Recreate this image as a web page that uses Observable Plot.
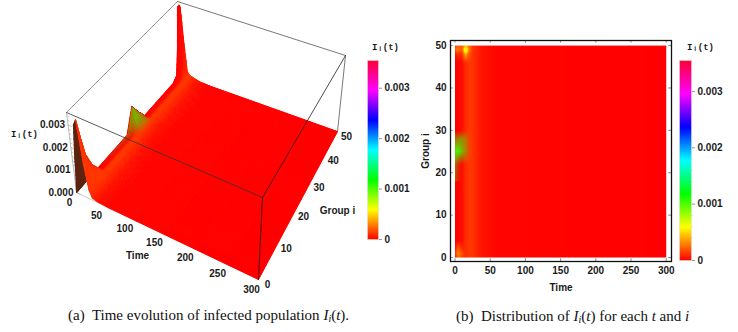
<!DOCTYPE html>
<html>
<head>
<meta charset="utf-8">
<script src="https://cdn.jsdelivr.net/npm/d3@7"></script>
<script src="https://cdn.jsdelivr.net/npm/@observablehq/plot@0.6"></script>
<style>
  html,body{margin:0;padding:0;background:#fff;}
  #stage{position:relative;width:738px;height:332px;overflow:hidden;background:#fff;}
  #stage > div.p{position:absolute;}
  .cap{position:absolute;font-family:"Liberation Serif",serif;font-size:15px;color:#111;white-space:nowrap;line-height:16px;}
  .cap sub{font-size:10px;line-height:0;vertical-align:-2px;}
</style>
</head>
<body>
<div id="stage"></div>
<script>
// ---- data ----
const times = [0, 3, 5, 10, 15, 20, 25, 30, 40, 60, 300];
const groups = [0, 1, 2, 4, 8, 22, 25, 28, 30, 46, 48, 49, 50];
const timeTicks = [0, 50, 100, 150, 200, 250, 300];
const groupTicks = [0, 10, 20, 30, 40, 50];
const heightTicks = [0, 0.001, 0.002, 0.003];
const heightMinorTicks = [0.0002, 0.0004, 0.0006, 0.0008, 0.0012, 0.0014, 0.0016, 0.0018, 0.0022, 0.0024, 0.0026, 0.0028, 0.0032, 0.0034];
const colorTicks = [0, 0.001, 0.002, 0.003];
const colorMax = 0.00355;

// The low ridge that runs along every group: its height, and the colour value painted on it
const ridge = [0, 0, 0.00001, 0.00004, 0.00012, 0.00016, 0.00013, 0.00009, 0.00003, 0, 0];
const ridgeTint = [0, 0, 0.00001, 0.00003, 0.0001, 0.00013, 0.00012, 0.00009, 0.00004, 0.00001, 0];

// Height of the 3D surface, one row per group
const surfaceHeight = [
  [0, 0.0008, 0.0016, 0.0031, 0.0034, 0.0015, 0.0004, 0.00009, 0.00003, 0, 0],
  [0, 0.0004, 0.0009, 0.0018, 0.0024, 0.0012, 0.0003, 0.00009, 0.00003, 0, 0],
  [0, 0.0002, 0.0005, 0.001, 0.0016, 0.0009, 0.00025, 0.00009, 0.00003, 0, 0],
  [0, 0.0001, 0.0002, 0.0005, 0.0009, 0.0005, 0.0002, 0.00009, 0.00003, 0, 0],
  ridge,
  ridge,
  [0.001, 0.0009, 0.0007, 0.0004, 0.0003, 0.00016, 0.00013, 0.00009, 0.00003, 0, 0],
  [0.0004, 0.0004, 0.0004, 0.0003, 0.0002, 0.00016, 0.00013, 0.00009, 0.00003, 0, 0],
  ridge,
  ridge,
  [0.0002, 0.0003, 0.0003, 0.0002, 0.00015, 0.00016, 0.00013, 0.00009, 0.00003, 0, 0],
  [0.0014, 0.0016, 0.0015, 0.0009, 0.0002, 0.00016, 0.00013, 0.00009, 0.00003, 0, 0],
  [0.0033, 0.0034, 0.0033, 0.0016, 0.0003, 0.00016, 0.00013, 0.00009, 0.00003, 0, 0]
];

// Colour value of the flat distribution, one row per group
const distribution = [
  [0.00005, 0.0002, 0.00025, 0.00014, 0.0001, 0.00013, 0.00012, 0.00009, 0.00004, 0.00001, 0],
  [0.0001, 0.00028, 0.0003, 0.00018, 0.0001, 0.00013, 0.00012, 0.00009, 0.00004, 0.00001, 0],
  [0.00003, 0.0002, 0.00022, 0.0001, 0.0001, 0.00013, 0.00012, 0.00009, 0.00004, 0.00001, 0],
  ridgeTint,
  ridgeTint,
  ridgeTint,
  ridgeTint,
  ridgeTint,
  ridgeTint,
  ridgeTint,
  [0.00005, 0.0001, 0.0001, 0.00012, 0.0004, 0.0002, 0.00012, 0.00009, 0.00004, 0.00001, 0],
  [0.0002, 0.0003, 0.00028, 0.0002, 0.0008, 0.00028, 0.00013, 0.00009, 0.00004, 0.00001, 0],
  [0.0001, 0.0002, 0.0002, 0.0002, 0.0004, 0.00025, 0.00013, 0.00009, 0.00004, 0.00001, 0]
];

// Colour value painted on the 3D surface, one row per group
const surfaceColor = groups.map(() => ridgeTint);

// Strength of the green patch around group 25, one row per group
const zeros = times.map(() => 0);
const greenPatch = [
  zeros, zeros, zeros, zeros, zeros,
  [0.45, 0.3, 0.15, 0, 0, 0, 0, 0, 0, 0, 0],
  [1, 1, 1, 0.75, 0.45, 0.12, 0, 0, 0, 0, 0],
  [0.5, 0.5, 0.55, 0.55, 0.4, 0.08, 0, 0, 0, 0, 0],
  zeros, zeros, zeros, zeros, zeros
];
const patchGreen = "#4cf000";

const hueColors = ["#ff0000", "#ffff00", "#00ff00", "#00ffff", "#0000ff", "#ff00ff", "#ff0033"];

// ---- helpers ----
const colorScale = {type: "linear", domain: hueColors.map((_, k) => k * colorMax / 6), range: hueColors};
const axisFont = {fontFamily: "'Liberation Sans',Arial,sans-serif", fontWeight: "bold", fontSize: "10px", color: "#1a1a1a", background: "transparent", overflow: "visible"};
const monoFont = {fontFamily: "'Liberation Mono',monospace", fontSize: 9, fontWeight: "bold"};

function sample(matrix, t, i) {
  const a = Math.min(d3.bisectRight(times, t) - 1, times.length - 2);
  const b = Math.min(d3.bisectRight(groups, i) - 1, groups.length - 2);
  const u = (t - times[a]) / (times[a + 1] - times[a]);
  const v = (i - groups[b]) / (groups[b + 1] - groups[b]);
  return (matrix[b][a] * (1 - u) + matrix[b][a + 1] * u) * (1 - v)
       + (matrix[b + 1][a] * (1 - u) + matrix[b + 1][a + 1] * u) * v;
}

// The 3D camera: where the corners of the box fall, as (t,i) = (0,0), (300,0), (300,50), (0,50)
const zBox = 0.00355;
const floorCorners = [[76, 192], [258, 279], [337, 131], [180, 75]];
const ceilCorners = [[66, 112], [262, 197], [345, 55], [177, 1]];
function homography([[x0, y0], [x1, y1], [x2, y2], [x3, y3]]) {
  const dx1 = x1 - x2, dx2 = x3 - x2, sx = x0 - x1 + x2 - x3;
  const dy1 = y1 - y2, dy2 = y3 - y2, sy = y0 - y1 + y2 - y3;
  const den = dx1 * dy2 - dx2 * dy1;
  const g = (sx * dy2 - dx2 * sy) / den, h = (dx1 * sy - sx * dy1) / den;
  const a = x1 - x0 + g * x1, b = x3 - x0 + h * x3, d = y1 - y0 + g * y1, e = y3 - y0 + h * y3;
  return (u, v) => {
    const w = g * u + h * v + 1;
    return [(a * u + b * v + x0) / w, (d * u + e * v + y0) / w];
  };
}
const floorMap = homography(floorCorners), ceilMap = homography(ceilCorners);
function project(t, i, z) {
  const [x0, y0] = floorMap(t / 300, i / 50), [x1, y1] = ceilMap(t / 300, i / 50);
  const k = z / zBox;
  return [x0 + (x1 - x0) * k, y0 + (y1 - y0) * k];
}
const refine = (arr, n) => arr.slice(1).flatMap((v, k) => d3.range(n).map(j => arr[k] + (v - arr[k]) * j / n)).concat(arr[arr.length - 1]);

// Surface mesh, drawn far to near
const meshT = refine(times, 5), meshI = refine(groups, 5);
const frontQuads = [], backQuads = [], patchQuads = [];
let id = 0;
for (let a = 0; a < meshT.length - 1; a++) {
  for (let b = meshI.length - 2; b >= 0; b--) {
    const corners = [[meshT[a], meshI[b]], [meshT[a + 1], meshI[b]], [meshT[a + 1], meshI[b + 1]], [meshT[a], meshI[b + 1]]];
    const pts = corners.map(([t, i]) => project(t, i, sample(surfaceHeight, t, i)));
    const value = d3.mean(corners, ([t, i]) => sample(surfaceColor, t, i));
    const alpha = d3.mean(corners, ([t, i]) => sample(greenPatch, t, i));
    const target = d3.polygonArea(pts) > 0 ? frontQuads : backQuads;
    id++;
    pts.forEach(([x, y]) => {
      target.push({x, y, id, value});
      if (alpha > 0.01) patchQuads.push({x, y, id, alpha});
    });
  }
}

const edge = (a, b) => [project(...a), project(...b)].map(([x, y]) => ({x, y}));
const behind = [
  {pts: edge([0, 0, zBox], [0, 50, zBox]), stroke: "#777"},
  {pts: edge([0, 50, zBox], [300, 50, zBox]), stroke: "#555"},
  {pts: edge([0, 0, 0], [0, 0, zBox]), stroke: "#aaa"},
  {pts: edge([300, 50, 0], [300, 50, zBox]), stroke: "#555"},
  {pts: edge([0, 0, 0], [300, 0, 0]), stroke: "#bbb"}
];
const infront = [
  {pts: edge([0, 0, zBox], [300, 0, zBox]), stroke: "#333"},
  {pts: edge([300, 0, zBox], [300, 50, zBox]), stroke: "#222"},
  {pts: edge([300, 0, zBox], [300, 0, 0]), stroke: "#111"}
];
const edgeMarks = list => list.map(e => Plot.line(e.pts, {x: "x", y: "y", stroke: e.stroke, strokeWidth: 0.8}));

const timeAt = t => project(t, 0, 0), groupAt = i => project(300, i, 0), heightAt = z => project(0, 0, z);
const fmtColor = d => d === 0 ? "0" : d.toFixed(3);

function place(node, left, top) {
  const wrap = document.createElement("div");
  wrap.className = "p";
  wrap.style.left = left + "px";
  wrap.style.top = top + "px";
  wrap.appendChild(node);
  document.getElementById("stage").appendChild(wrap);
}

// ---- (a) the 3D surface ----
place(Plot.plot({
  width: 365, height: 305, margin: 0,
  style: axisFont,
  x: {domain: [0, 365], range: [0, 365], axis: null},
  y: {domain: [0, 305], range: [0, 305], axis: null},
  color: colorScale,
  marks: [
    ...edgeMarks(behind),
    Plot.link(heightMinorTicks, {x1: d => heightAt(d)[0], y1: d => heightAt(d)[1], x2: d => heightAt(d)[0] + 2, y2: d => heightAt(d)[1] + 1, stroke: "#aaa", strokeWidth: 0.6}),
    Plot.link(heightTicks, {x1: d => heightAt(d)[0], y1: d => heightAt(d)[1], x2: d => heightAt(d)[0] + 4, y2: d => heightAt(d)[1] + 2, stroke: "#999", strokeWidth: 0.6}),
    Plot.line(backQuads, {x: "x", y: "y", z: "id", fill: "#5c2410", stroke: "#5c2410", strokeWidth: 1, curve: "linear-closed"}),
    Plot.line(frontQuads, {x: "x", y: "y", z: "id", fill: "value", stroke: "value", strokeWidth: 1, curve: "linear-closed"}),
    Plot.line(patchQuads, {x: "x", y: "y", z: "id", fill: patchGreen, fillOpacity: "alpha", stroke: "none", curve: "linear-closed"}),
    ...edgeMarks(infront),
    Plot.text(timeTicks, {x: d => timeAt(d)[0], y: d => timeAt(d)[1], text: d => String(d), dx: -7, dy: 10}),
    Plot.text(groupTicks, {x: d => groupAt(d)[0], y: d => groupAt(d)[1], text: d => String(d), dx: 9, dy: 5}),
    Plot.text(heightTicks, {x: d => heightAt(d)[0], y: d => heightAt(d)[1], text: d => d.toFixed(3), textAnchor: "end", dx: -3, dy: 0}),
    Plot.text(["Time"], {x: [137], y: [255]}),
    Plot.text(["Group i"], {x: [337], y: [210]}),
    Plot.text(["Iᵢ(t)"], {x: [24], y: [134], ...monoFont})
  ]
}), 0, 0);

// ---- colour bars ----
function colorBar(left, top, barW, barH, title, titleLeft) {
  const minor = d3.range(0.0002, colorMax, 0.0002);
  place(Plot.plot({
    width: barW + 40, height: barH + 24, marginLeft: 0, marginRight: 40, marginTop: 12, marginBottom: 12,
    style: axisFont,
    x: {domain: [0, 1], axis: null},
    y: {domain: [0, colorMax], axis: null},
    color: colorScale,
    marks: [
      Plot.raster({fill: (x, y) => y, x1: 0, x2: 1, y1: 0, y2: colorMax, pixelSize: 1}),
      Plot.ruleY(minor, {x1: 1, x2: 1.15, stroke: "#ccc", strokeWidth: 0.7}),
      Plot.axisY(colorTicks, {anchor: "right", tickSize: 3, tickPadding: 3, tickFormat: fmtColor, label: null, stroke: "#999"}),
      Plot.frame({stroke: "#ddd", strokeWidth: 0.5})
    ]
  }), left, top - 12);
  place(Plot.plot({
    width: 50, height: 14, margin: 0,
    style: {...axisFont, background: "transparent"},
    x: {domain: [0, 50], range: [0, 50], axis: null},
    y: {domain: [0, 14], range: [0, 14], axis: null},
    marks: [Plot.text([title], {x: [25], y: [7], ...monoFont})]
  }), titleLeft, top - 20);
}
colorBar(367, 60, 11, 179, "Iᵢ(t)", 360);
colorBar(679, 60, 12, 200, "Iᵢ(t)", 675);

// ---- (b) the distribution ----
place(Plot.plot({
  width: 270, height: 270, marginLeft: 40, marginRight: 9, marginTop: 10, marginBottom: 39,
  style: axisFont,
  x: {domain: [-6.4, 307.5]},
  y: {domain: [-0.94, 51.2]},
  color: colorScale,
  marks: [
    Plot.raster({fill: (t, i) => sample(distribution, t, i), x1: 0, x2: 300, y1: 0, y2: 50, pixelSize: 1}),
    Plot.raster({fill: patchGreen, fillOpacity: (t, i) => sample(greenPatch, t, i), x1: 0, x2: 40, y1: 18, y2: 32, pixelSize: 1}),
    Plot.axisX({ticks: timeTicks, tickSize: 0, tickPadding: 5, tickFormat: String, label: "Time", labelAnchor: "center", labelArrow: "none", labelOffset: 29}),
    Plot.axisY({ticks: groupTicks, tickSize: 0, tickPadding: 4, tickFormat: String, label: "Group i", labelAnchor: "center", labelArrow: "none", labelOffset: 29}),
    Plot.ruleX(timeTicks, {y1: -0.94, y2: -0.3, stroke: "#555", strokeWidth: 0.7}),
    Plot.ruleX(timeTicks, {y1: 50.6, y2: 51.2, stroke: "#555", strokeWidth: 0.7}),
    Plot.ruleY(groupTicks, {x1: -6.4, x2: -2.5, stroke: "#555", strokeWidth: 0.7}),
    Plot.ruleY(groupTicks, {x1: 303.5, x2: 307.5, stroke: "#555", strokeWidth: 0.7}),
    Plot.frame({stroke: "#111", strokeWidth: 1.3})
  ]
}), 410, 30);

// ---- captions ----
function caption(left, top, html) {
  const c = document.createElement("div");
  c.className = "cap";
  c.style.left = left + "px";
  c.style.top = top + "px";
  c.innerHTML = html;
  document.getElementById("stage").appendChild(c);
}
caption(68, 307, "(a)&nbsp; Time evolution of infected population <i>I<sub>i</sub></i>(<i>t</i>).");
caption(456, 308, "(b)&nbsp; Distribution of <i>I<sub>i</sub></i>(<i>t</i>) for each <i>t</i> and <i>i</i>");
</script>
</body>
</html>
